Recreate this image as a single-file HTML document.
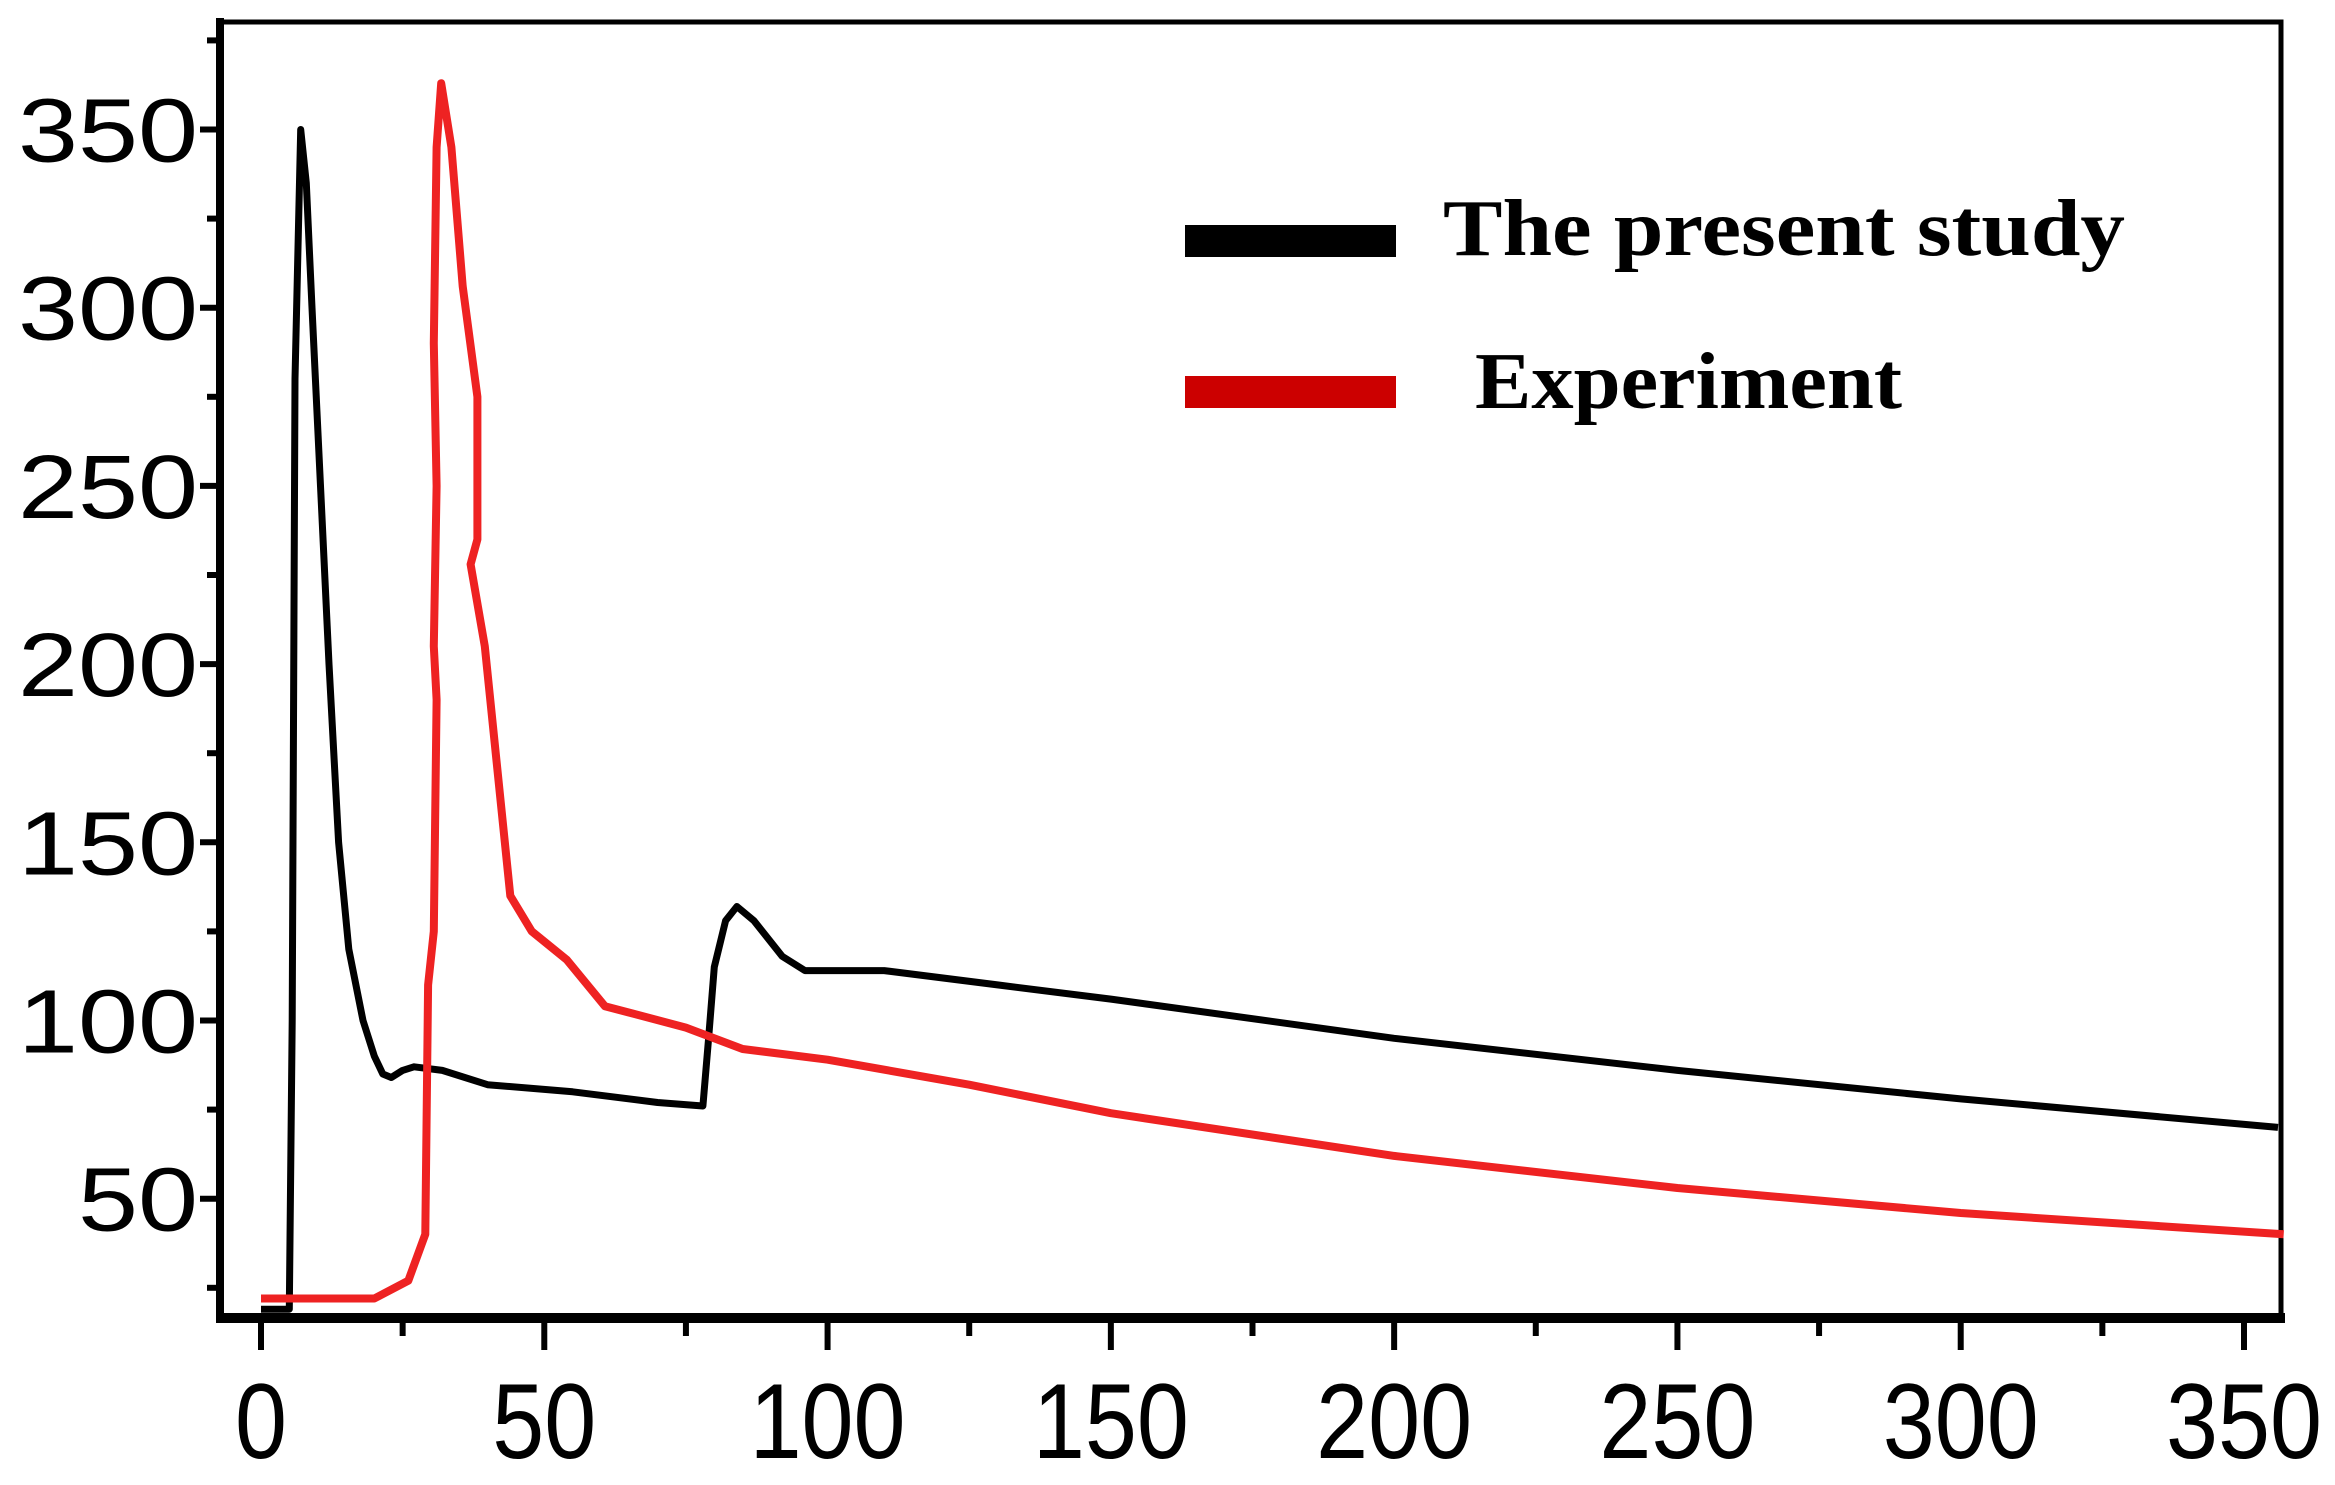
<!DOCTYPE html>
<html><head><meta charset="utf-8"><style>
html,body{margin:0;padding:0;background:#fff;}
svg{display:block;}
</style></head><body>
<svg id="chart" width="2335" height="1485" xmlns="http://www.w3.org/2000/svg">
<g id="axes"></g>
<g id="series"></g>
<g id="legend">
  <rect x="1185" y="225" width="211" height="32" fill="#000"/>
  <text x="1443" y="255" font-family="Liberation Serif, serif" font-weight="bold" font-size="80" textLength="682" lengthAdjust="spacingAndGlyphs">The present study</text>
  <rect x="1185" y="376" width="211" height="32" fill="#cc0000"/>
  <text x="1475" y="408" font-family="Liberation Serif, serif" font-weight="bold" font-size="80" textLength="427" lengthAdjust="spacingAndGlyphs">Experiment</text>
</g>
</svg>
<script>
const xTicks = [0,50,100,150,200,250,300,350];
const yTicks = [50,100,150,200,250,300,350];
const blackX = [0,5,5.5,6,7,8,9,10.5,12,13.7,15.5,18,20,21.5,23,25,27,32,40,55,70,78,79,80,82,84,87,92,96,110,130,150,200,250,300,356];
const blackY = [19,19,100,280,350,335,300,250,200,150,120,100,90,85,84,86,87,86,82,80,77,76,95,115,128,132,128,118,114,114,110,106,95,86,78,70];
const redX = [0,20,26,29,29.5,30.5,31,30.5,31,30.5,31,31.8,33.6,35.6,38.2,38.2,37,39.5,44,47.8,54,60.7,75,85,100,125,150,200,250,300,357];
const redY = [22,22,27,40,110,125,190,205,250,290,345,363,345,306,275,235,228,205,135,125,117,104,98,92,89,82,74,62,53,46,40];

const NS = 'http://www.w3.org/2000/svg';
const X0 = 261, X1 = 2244;
const fx = v => X0 + (v/350)*(X1-X0);
const fy = v => 129.5 + (350-v)*(1198.7-129.5)/300;
const L = 220, R = 2281, T = 22, B = 1318;
const axes = document.getElementById('axes');
const series = document.getElementById('series');
function mk(tag, attrs, parent){const e=document.createElementNS(NS,tag);for(const k in attrs)e.setAttribute(k,attrs[k]);parent.appendChild(e);return e;}

const frame = mk('rect',{x:L,y:T,width:R-L,height:B-T,fill:'none',stroke:'#000','stroke-width':5},axes);


const xl = mk('line',{x1:L-4,x2:R+4,y1:B,y2:B,stroke:'#000','stroke-width':10},axes);


const yl = mk('line',{x1:L,x2:L,y1:T-4,y2:B+4,stroke:'#000','stroke-width':8},axes);



for(let v=0; v<=350; v+=25){
  const t = mk('line',{x1:fx(v),x2:fx(v),y1:B,y2:B+(v%50===0?32:18),stroke:'#000','stroke-width':6},axes);
  
  
}
for(let v=25; v<=375; v+=25){
  const t = mk('line',{x1:L,x2:L-(v%50===0?20:13),y1:fy(v),y2:fy(v),stroke:'#000','stroke-width':6},axes);
  
  
}
xTicks.forEach(v=>{
  const t = mk('text',{x:fx(v),y:1458,'text-anchor':'middle','font-family':'Liberation Sans, sans-serif','font-size':107,textLength:String(v).length*52,lengthAdjust:'spacingAndGlyphs'},axes);
  t.textContent = v;
  
  
});
yTicks.forEach(v=>{
  const t = mk('text',{x:198,y:fy(v)+32,'text-anchor':'end','font-family':'Liberation Sans, sans-serif','font-size':90,textLength:String(v).length*60,lengthAdjust:'spacingAndGlyphs'},axes);
  t.textContent = v;
  
  
});
function pts(xs,ys){return xs.map((x,i)=>fx(x).toFixed(1)+','+fy(ys[i]).toFixed(1)).join(' ');}
const blk = mk('polyline',{points:pts(blackX,blackY),fill:'none',stroke:'#000','stroke-width':7,'stroke-linejoin':'round'},series);


const red = mk('polyline',{points:pts(redX,redY),fill:'none',stroke:'#ee2222','stroke-width':8,'stroke-linejoin':'round'},series);


</script>
</body></html>
